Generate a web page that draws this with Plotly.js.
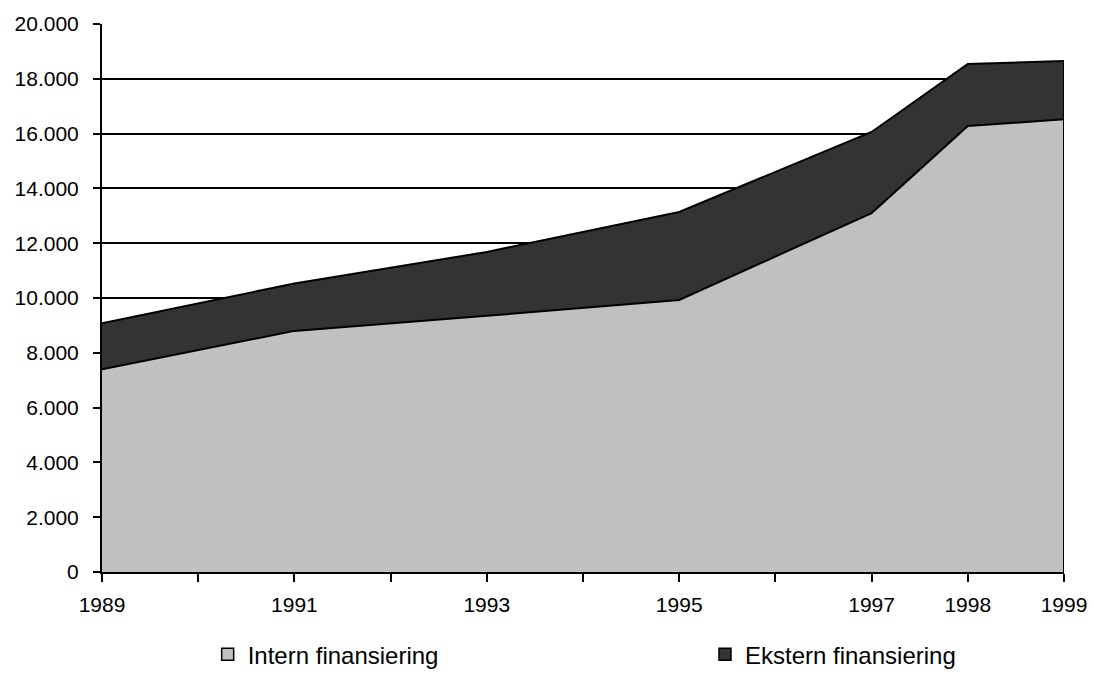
<!DOCTYPE html>
<html>
<head>
<meta charset="utf-8">
<script src="https://cdn.plot.ly/plotly-3.0.1.min.js"></script>
<style>html,body{margin:0;padding:0;background:#fff;}#chart{width:1093px;height:682px;}</style>
</head>
<body>
<div id="chart"></div>
<script>
const years = [1989, 1991, 1993, 1995, 1997, 1998, 1999];
const intern = [7400, 8800, 9350, 9930, 13100, 16280, 16520];
const ekstern = [1680, 1730, 2330, 3210, 2960, 2260, 2130];
const xTickLabels = ['1989', '1991', '1993', '1995', '1997', '1998', '1999'];
const seriesNames = ['Intern finansiering', 'Ekstern finansiering'];
const seriesColors = ['#c0c0c0', '#333333'];

const lastIdx = years.length - 1;
const lastTotal = intern[lastIdx] + ekstern[lastIdx];

const traces = [
  {
    x: years, y: intern, name: seriesNames[0], type: 'scatter', mode: 'lines',
    stackgroup: 'one', fillcolor: seriesColors[0], line: {color: '#000', width: 2},
    showlegend: false
  },
  {
    x: years, y: ekstern, name: seriesNames[1], type: 'scatter', mode: 'lines',
    stackgroup: 'one', fillcolor: seriesColors[1], line: {color: '#000', width: 2},
    showlegend: false
  },
  {
    x: [years[lastIdx], years[lastIdx]], y: [0, lastTotal], type: 'scatter', mode: 'lines',
    line: {color: '#000', width: 2}, showlegend: false, hoverinfo: 'skip'
  },
  {
    x: [null], y: [null], type: 'bar', name: seriesNames[0], legend: 'legend',
    marker: {color: seriesColors[0], line: {color: '#000', width: 1.5}}, showlegend: true
  },
  {
    x: [null], y: [null], type: 'bar', name: seriesNames[1], legend: 'legend2',
    marker: {color: seriesColors[1], line: {color: '#000', width: 1.5}}, showlegend: true
  }
];

const legendCommon = {
  orientation: 'h', xref: 'container', yref: 'container',
  xanchor: 'left', yanchor: 'middle', y: 0.04,
  font: {size: 24, color: '#000'}, itemwidth: 30, bgcolor: 'rgba(0,0,0,0)'
};

const layout = {
  width: 1093, height: 682,
  margin: {l: 102, r: 29, t: 24, b: 110},
  paper_bgcolor: '#fff', plot_bgcolor: '#fff',
  separators: ',.',
  font: {family: 'Liberation Sans, Arial, sans-serif', size: 21, color: '#000'},
  showlegend: true,
  legend: Object.assign({}, legendCommon, {x: 0.19}),
  legend2: Object.assign({}, legendCommon, {x: 0.645}),
  xaxis: {
    range: [years[0], years[lastIdx]],
    tickmode: 'array', tickvals: years, ticktext: xTickLabels,
    ticks: 'outside', ticklen: 8, tickwidth: 2, tickcolor: '#000',
    minor: {tickmode: 'linear', tick0: years[0], dtick: 1, ticks: 'outside', ticklen: 8, tickwidth: 2, tickcolor: '#000', showgrid: false},
    showline: true, linecolor: '#000', linewidth: 2,
    showgrid: false, zeroline: false, fixedrange: true,
    ticklabelstandoff: 5
  },
  yaxis: {
    range: [0, 20000], dtick: 2000, tick0: 0, tickformat: ',d',
    ticks: 'outside', ticklen: 7, tickwidth: 2, tickcolor: '#000',
    showline: true, linecolor: '#000', linewidth: 2,
    showgrid: true, gridcolor: '#000', gridwidth: 2,
    zeroline: false, fixedrange: true,
    ticklabelstandoff: 10
  }
};

Plotly.newPlot('chart', traces, layout, {displayModeBar: false, staticPlot: true});
</script>
</body>
</html>
